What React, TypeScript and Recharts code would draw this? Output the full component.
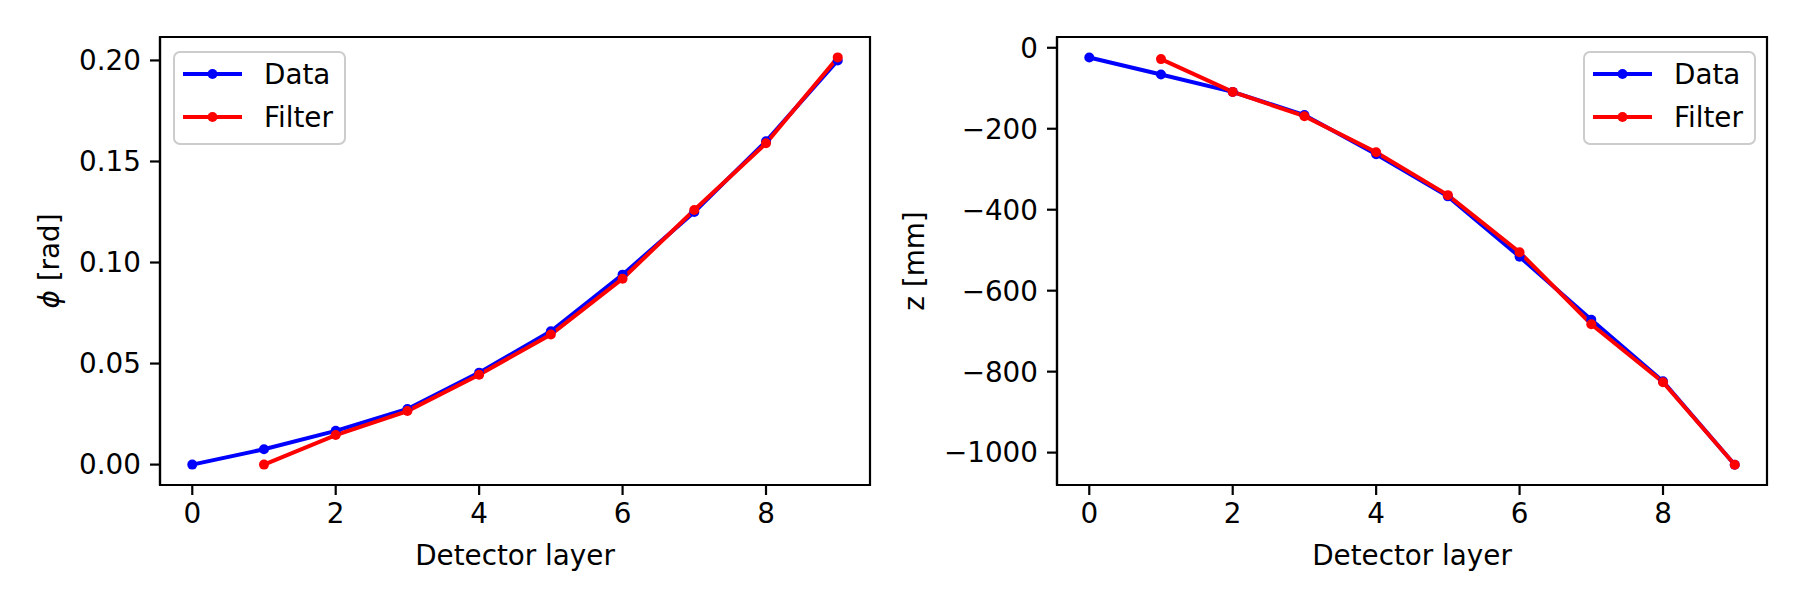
import { LineChart, Line, XAxis, YAxis, ReferenceArea, Legend } from "recharts";

const layers = [0, 1, 2, 3, 4, 5, 6, 7, 8, 9];
const phiData = [0.0, 0.0076, 0.0167, 0.0275, 0.0455, 0.066, 0.094, 0.125, 0.16, 0.2];
const phiFilter = [null, 0.0, 0.0146, 0.0265, 0.0445, 0.0644, 0.092, 0.126, 0.159, 0.2015];
const zData = [-24, -66, -109, -166, -263, -367, -516, -672, -824, -1030];
const zFilter = [null, -28, -109, -169, -258, -364, -505, -683, -826, -1030];
const xTicks = [0, 2, 4, 6, 8];
const phiTicks = [0, 0.05, 0.1, 0.15, 0.2];
const zTicks = [0, -200, -400, -600, -800, -1000];
const seriesNames = ["Data", "Filter"];

const FONT = "'DejaVu Sans', sans-serif";
const FS = 27.8;
const BLUE = "#0000ff";
const RED = "#ff0000";
const COLORS = [BLUE, RED];

const X_DOMAIN: [number, number] = [-0.45, 9.45];

const LegendBox = () => (
    <svg width={174} height={96} style={{ display: "block" }}>
        <rect x={1} y={1} width={171} height={92} rx={6} fill="#fff" fillOpacity={0.8} stroke="#cccccc" strokeWidth={2} />
        {seriesNames.map((name, i) => {
            const y = 23 + i * 43;
            return (
                <g key={name}>
                    <line x1={10} x2={69} y1={y} y2={y} stroke={COLORS[i]} strokeWidth={4} />
                    <circle cx={39.5} cy={y} r={5} fill={COLORS[i]} />
                    <text x={91} y={y} dy="0.36em" fontSize={FS} fontFamily={FONT} fill="#000">
                        {name}
                    </text>
                </g>
            );
        })}
    </svg>
);

type PanelProps = {
    width: number;
    data: { layer: number; data: number | null; filter: number | null }[];
    yDomain: [number, number];
    yTicks: number[];
    yFormat: (v: number) => string;
    yLabel: React.ReactNode;
    yLabelX: number;
    marginLeft: number;
    marginRight: number;
    legendLeft: number;
};

const TOP = 37;
const BOTTOM = 485;

const Panel = ({ width, data, yDomain, yTicks, yFormat, yLabel, yLabelX, marginLeft, marginRight, legendLeft }: PanelProps) => {
    const plotLeft = marginLeft + 60;
    const plotRight = width - marginRight;
    const cx = (plotLeft + plotRight) / 2;
    const cy = (TOP + BOTTOM) / 2;
    const tickStyle = { fill: "#000", fontSize: FS, fontFamily: FONT };
    return (
        <LineChart width={width} height={600} data={data} margin={{ top: TOP, right: marginRight, bottom: 600 - BOTTOM - 60, left: marginLeft }}>
            <XAxis
                dataKey="layer"
                type="number"
                domain={X_DOMAIN}
                allowDataOverflow
                ticks={xTicks}
                tickSize={10}
                tickMargin={8}
                height={60}
                stroke="#000"
                strokeWidth={2.2}
                tick={tickStyle}
                label={() => (
                    <text x={cx} y={565} textAnchor="middle" fontSize={FS} fontFamily={FONT} fill="#000">
                        Detector layer
                    </text>
                )}
            />
            <YAxis
                type="number"
                domain={yDomain}
                allowDataOverflow
                ticks={yTicks}
                tickFormatter={yFormat}
                tickSize={10}
                tickMargin={9}
                width={60}
                stroke="#000"
                strokeWidth={2.2}
                tick={tickStyle}
                label={() => (
                    <text
                        x={yLabelX}
                        y={cy}
                        transform={`rotate(-90 ${yLabelX} ${cy})`}
                        textAnchor="middle"
                        dominantBaseline="central"
                        fontSize={FS}
                        fontFamily={FONT}
                        fill="#000"
                    >
                        {yLabel}
                    </text>
                )}
            />
            <ReferenceArea
                x1={X_DOMAIN[0]}
                x2={X_DOMAIN[1]}
                y1={yDomain[0]}
                y2={yDomain[1]}
                fill="none"
                stroke="#000"
                strokeWidth={2.2}
                ifOverflow="visible"
            />
            <Line
                dataKey="data"
                stroke={BLUE}
                strokeWidth={4}
                dot={{ r: 5, fill: BLUE, stroke: BLUE, strokeWidth: 0 }}
                activeDot={false}
                isAnimationActive={false}
            />
            <Line
                dataKey="filter"
                stroke={RED}
                strokeWidth={4}
                dot={{ r: 5, fill: RED, stroke: RED, strokeWidth: 0 }}
                activeDot={false}
                isAnimationActive={false}
            />
            <Legend
                layout="vertical"
                align="center"
                verticalAlign="middle"
                content={() => <LegendBox />}
                wrapperStyle={{ left: legendLeft, top: 51, width: 174, height: 96 }}
            />
        </LineChart>
    );
};

const phiRows = layers.map((layer, i) => ({ layer, data: phiData[i], filter: phiFilter[i] }));
const zRows = layers.map((layer, i) => ({ layer, data: zData[i], filter: zFilter[i] }));

const fmtPhi = (v: number) => v.toFixed(2);
const fmtZ = (v: number) => (v < 0 ? "\u2212" + Math.abs(v) : String(v));

export default function App() {
    return (
        <div style={{ position: "absolute", left: 0, top: 0, width: 1800, height: 600, background: "#fff" }}>
            <div style={{ position: "absolute", left: 0, top: 0 }}>
                <Panel
                    width={880}
                    data={phiRows}
                    yDomain={[-0.0101, 0.2116]}
                    yTicks={phiTicks}
                    yFormat={fmtPhi}
                    yLabel={
                        <>
                            <tspan fontStyle="italic">ϕ</tspan> [rad]
                        </>
                    }
                    yLabelX={49}
                    marginLeft={100}
                    marginRight={10}
                    legendLeft={173}
                />
            </div>
            <div style={{ position: "absolute", left: 880, top: 0 }}>
                <Panel
                    width={920}
                    data={zRows}
                    yDomain={[-1080, 26.6]}
                    yTicks={zTicks}
                    yFormat={fmtZ}
                    yLabel="z [mm]"
                    yLabelX={34}
                    marginLeft={117}
                    marginRight={33}
                    legendLeft={703}
                />
            </div>
        </div>
    );
}
